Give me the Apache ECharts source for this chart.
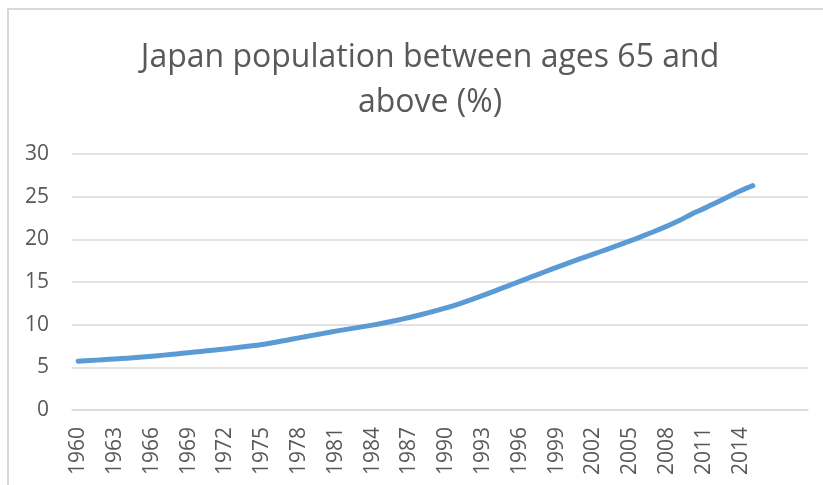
<!DOCTYPE html>
<html>
<head>
<meta charset="utf-8">
<title>Japan population between ages 65 and above (%)</title>
<script src="https://cdn.jsdelivr.net/npm/echarts@6/dist/echarts.min.js"></script>
<style>
  html, body { margin: 0; padding: 0; background: #ffffff; }
  #chart { width: 823px; height: 485px; }
</style>
</head>
<body>
<div id="chart"></div>
<script>
// Years with data, 1960–2015
const years = [];
for (let y = 1960; y <= 2015; y++) years.push(String(y));

// Empty trailing categories that leave room on the right of the axis
const paddingCategories = ['', '', '', ''];

// Share of the population aged 65 and above, in percent
const share65 = [
  5.72, 5.80, 5.89, 5.98, 6.07, 6.18, 6.30, 6.43, 6.57, 6.71,
  6.86, 7.01, 7.16, 7.32, 7.49, 7.68, 7.92, 8.18, 8.45, 8.72,
  8.98, 9.24, 9.48, 9.71, 9.95, 10.22, 10.52, 10.84, 11.19, 11.57,
  11.97, 12.42, 12.91, 13.43, 13.97, 14.52, 15.07, 15.62, 16.17, 16.72,
  17.25, 17.76, 18.26, 18.77, 19.29, 19.82, 20.37, 20.94, 21.55, 22.20,
  22.95, 23.60, 24.30, 25.00, 25.70, 26.30
];

// Value axis ticks
const yTicks = [0, 5, 10, 15, 20, 25, 30];

const categories = years.concat(paddingCategories);
const textColor = '#595959';
const gridColor = '#d9d9d9';
const font = '"Open Sans", "DejaVu Sans", sans-serif';

const chart = echarts.init(document.getElementById('chart'), null, { renderer: 'canvas' });

chart.setOption({
  animation: false,
  backgroundColor: '#ffffff',
  title: {
    text: 'Japan population between ages 65 and\nabove (%)',
    left: 425,
    textAlign: 'center',
    top: 30,
    textStyle: {
      fontFamily: font,
      fontSize: 32,
      fontWeight: 'normal',
      color: textColor,
      lineHeight: 45
    }
  },
  graphic: [{
    type: 'rect',
    shape: { x: 8, y: 9, width: 830, height: 500 },
    style: { fill: 'none', stroke: gridColor, lineWidth: 2 },
    silent: true
  }],
  grid: { left: 72, right: 15, top: 154, bottom: 75, containLabel: false },
  xAxis: {
    type: 'category',
    data: categories,
    boundaryGap: true,
    axisLine: { show: true, lineStyle: { color: gridColor, width: 1.5 } },
    axisTick: { show: false },
    axisLabel: {
      rotate: 90,
      margin: 17,
      interval: 0,
      formatter: (v, i) => (v !== '' && i % 3 === 0 ? v : ''),
      fontFamily: font,
      fontSize: 21,
      color: textColor
    },
    splitLine: { show: false }
  },
  yAxis: {
    type: 'value',
    min: yTicks[0],
    max: yTicks[yTicks.length - 1],
    interval: yTicks[1] - yTicks[0],
    axisLine: { show: false },
    axisTick: { show: false },
    axisLabel: {
      margin: 23,
      fontFamily: font,
      fontSize: 21,
      color: textColor
    },
    splitLine: { show: true, lineStyle: { color: gridColor, width: 1.5 } }
  },
  series: [{
    type: 'line',
    data: share65,
    smooth: 0.3,
    showSymbol: false,
    symbol: 'none',
    lineStyle: { color: '#5b9bd5', width: 5, cap: 'round', join: 'round' }
  }]
});
</script>
</body>
</html>
